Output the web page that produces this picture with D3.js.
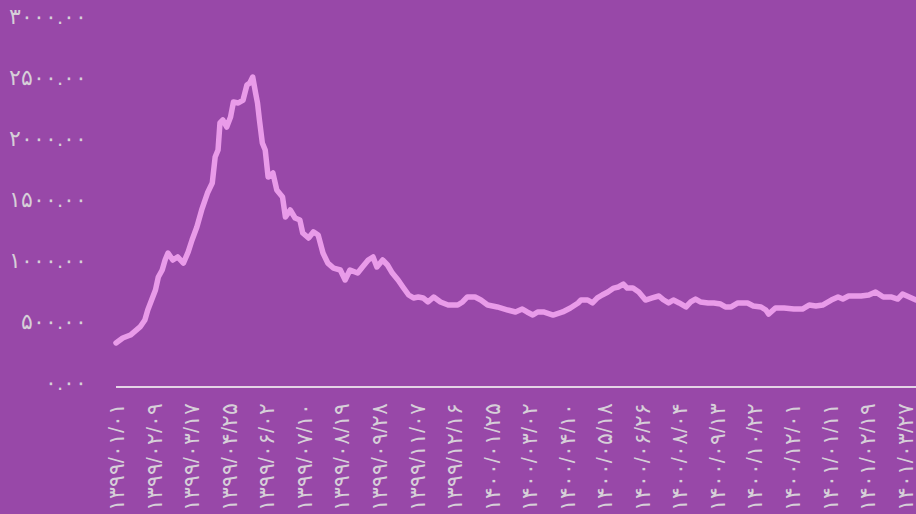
<!DOCTYPE html>
<meta charset="utf-8">
<title>روند روزانه</title>
<script src="https://d3js.org/d3.v7.min.js"></script>
<style>
body {
	margin: 0;
	background: #9848a8;
	overflow: hidden;
}
</style>
<body>
<script>
// Days counted from 1399/01/01
const days = [0, 7, 15, 25, 30, 33, 37, 41, 44, 48, 51, 54, 59, 64, 70, 75, 79, 84, 89, 95,
	100, 103, 106, 108, 111, 115, 119, 122, 127, 132, 136, 139, 142, 145, 147, 149, 152, 155, 158, 163,
	167, 173, 176, 181, 186, 191, 194, 200, 205, 210, 215, 220, 226, 233, 238, 243, 251, 256, 262, 267,
	271, 277, 282, 287, 293, 298, 304, 309, 314, 319, 324, 330, 337, 345, 355, 360, 365, 373, 379, 386,
	396, 407, 415, 422, 427, 433, 438, 444, 454, 464, 472, 480, 483, 490, 495, 500, 505, 511, 517, 522,
	527, 531, 537, 543, 550, 557, 564, 569, 574, 579, 585, 592, 597, 602, 607, 615, 621, 628, 633, 639,
	646, 656, 662, 670, 675, 678, 685, 694, 704, 713, 720, 727, 734, 743, 750, 755, 761, 774, 782, 789,
	797, 805, 812, 817, 824, 831];
const values = [320, 361, 385, 451, 508, 590, 672, 754, 861, 918, 1000, 1057, 1000, 1025, 975, 1066, 1164, 1270, 1410, 1549,
	1631, 1844, 1902, 2123, 2148, 2090, 2172, 2295, 2287, 2311, 2434, 2451, 2500, 2369, 2287, 2148, 1959, 1902, 1680, 1713,
	1574, 1516, 1352, 1410, 1344, 1328, 1221, 1180, 1230, 1205, 1057, 975, 934, 918, 836, 918, 893, 943, 1000, 1025,
	943, 1000, 959, 893, 836, 779, 713, 689, 697, 689, 656, 697, 656, 631, 631, 656, 697, 697, 672, 631,
	615, 590, 574, 598, 574, 549, 574, 574, 549, 574, 607, 648, 672, 672, 648, 689, 713, 738, 770, 779,
	803, 770, 770, 738, 672, 689, 705, 672, 648, 672, 648, 615, 656, 680, 656, 648, 648, 639, 615, 615,
	648, 648, 623, 615, 590, 557, 607, 607, 598, 598, 631, 623, 631, 672, 697, 680, 705, 705, 713, 738,
	697, 697, 680, 721, 697, 672];

const xTickDays = [0, 39, 78, 117, 156, 195, 234, 273, 312, 351, 390, 429, 468, 507, 546, 585, 624, 663, 702, 741, 780, 819];
const xTickLabels = [
	'۱۳۹۹/۰۱/۰۱', '۱۳۹۹/۰۲/۰۹', '۱۳۹۹/۰۳/۱۷', '۱۳۹۹/۰۴/۲۵', '۱۳۹۹/۰۶/۰۲', '۱۳۹۹/۰۷/۱۰',
	'۱۳۹۹/۰۸/۱۹', '۱۳۹۹/۰۹/۲۸', '۱۳۹۹/۱۱/۰۷', '۱۳۹۹/۱۲/۱۶', '۱۴۰۰/۰۱/۲۵', '۱۴۰۰/۰۳/۰۲',
	'۱۴۰۰/۰۴/۱۰', '۱۴۰۰/۰۵/۱۸', '۱۴۰۰/۰۶/۲۶', '۱۴۰۰/۰۸/۰۴', '۱۴۰۰/۰۹/۱۳', '۱۴۰۰/۱۰/۲۲',
	'۱۴۰۰/۱۲/۰۱', '۱۴۰۱/۰۱/۱۱', '۱۴۰۱/۰۲/۱۹', '۱۴۰۱/۰۳/۲۷',
];
const yTicks = [0, 500, 1000, 1500, 2000, 2500, 3000];

const width = 916;
const height = 514;
const bgColor = '#9848a8';
const lineColor = '#e99be9';
const textColor = '#d6cfd8';
const axisColor = '#e4d4e6';
const fontSize = 22;

const persianDigits = '۰۱۲۳۴۵۶۷۸۹';
const toPersian = s => s.replace(/\d/g, d => persianDigits[+d]);

const x = d3.scaleLinear()
	.domain([0, 831])
	.range([116, 916]);
const y = d3.scaleLinear()
	.domain([0, 3000])
	.range([382, 16]);

const svg = d3.select('body')
	.append('svg')
		.attr('width', width)
		.attr('height', height)
		.attr('font-family', 'DejaVu Sans, sans-serif');

svg.append('rect')
	.attr('width', width)
	.attr('height', height)
	.attr('fill', bgColor);

// y axis labels only, no line
const leftAxis = svg.append('g')
	.attr('transform', 'translate(87, 0)')
	.call(
		d3.axisLeft(y)
			.tickValues(yTicks)
			.tickSize(0)
			.tickPadding(0)
			.tickFormat(d => toPersian(d3.format('.2f')(d)))
	);
leftAxis.select('.domain').remove();
leftAxis.selectAll('text')
	.attr('font-size', fontSize)
	.attr('fill', textColor);

// x axis, a bit below the zero line
const bottomAxis = svg.append('g')
	.attr('transform', `translate(0, ${y(0) + 5})`)
	.call(
		d3.axisBottom(x)
			.tickValues(xTickDays)
			.tickSize(0)
			.tickFormat((d, i) => xTickLabels[i])
	);
bottomAxis.select('.domain')
	.attr('d', `M${x(0)},0H${width}`)
	.attr('stroke', axisColor)
	.attr('stroke-width', 2);
bottomAxis.selectAll('text')
	.attr('font-size', fontSize)
	.attr('fill', textColor)
	.attr('text-anchor', 'end')
	.attr('transform', 'rotate(-90)')
	.attr('x', -16)
	.attr('y', 0)
	.attr('dy', '0.35em');

const line = d3.line()
	.x((d, i) => x(days[i]))
	.y(d => y(d));

svg.append('path')
	.datum(values)
	.attr('fill', 'none')
	.attr('stroke', lineColor)
	.attr('stroke-width', 5.5)
	.attr('stroke-linejoin', 'round')
	.attr('stroke-linecap', 'round')
	.attr('d', line);
</script>
</body>
